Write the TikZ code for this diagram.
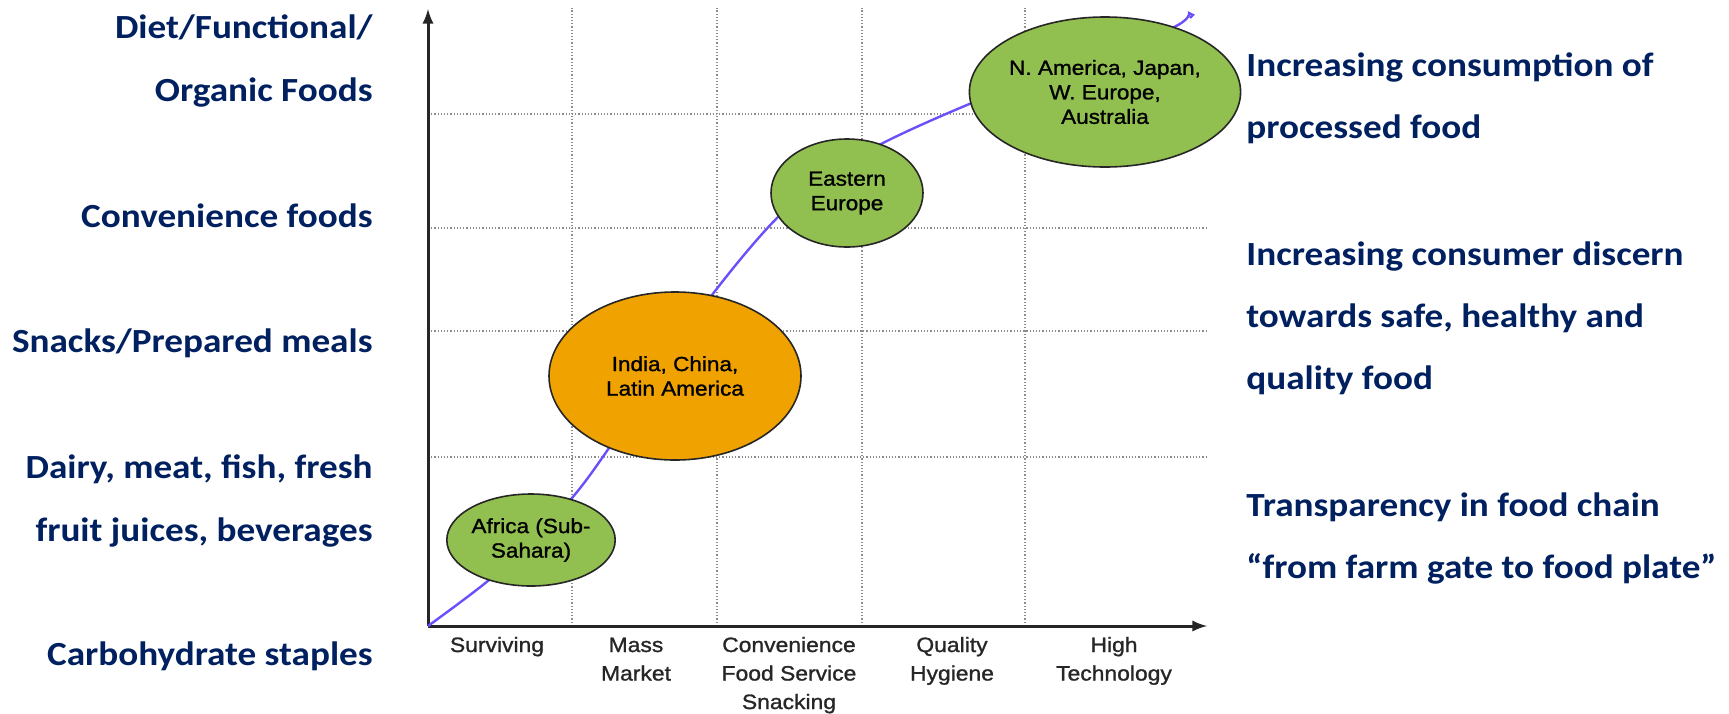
\documentclass[tikz,border=0pt]{standalone}
\usepackage{fontspec}
\setmainfont{Liberation Sans}[FakeStretch=1.1, FakeBold=1.2]
\newfontfamily\stagefont{Carlito}[FakeStretch=1.1]
\usepackage{xcolor}
\usetikzlibrary{arrows,shapes,positioning,calc}

\definecolor{navy}{RGB}{0,32,96}
\definecolor{curveblue}{RGB}{105,80,250}
\definecolor{leafgreen}{RGB}{146,192,80}
\definecolor{amber}{RGB}{240,162,0}

\tikzset{
  stage/.style={font=\stagefont\bfseries\fontsize{16.9}{31.5}\selectfont, text=navy, align=right, anchor=base east, inner sep=0pt},
  trend/.style={font=\stagefont\bfseries\fontsize{16.9}{31}\selectfont, text=navy, align=left, anchor=base west, inner sep=0pt},
  region/.style={draw=black!85, line width=0.8pt, ellipse, inner sep=0pt, align=center, font=\fontsize{10.25}{12.25}\selectfont, text=black},
  phase/.style={font=\fontsize{10.4}{14.25}\selectfont, text=black!85, align=center, anchor=base, inner sep=0pt},
  gridline/.style={black!45, densely dotted, line width=0.6pt},
  axis/.style={line width=1.5pt, black!85, -latex},
}

\begin{document}
\begin{tikzpicture}[x=0.5pt,y=-0.5pt]
\useasboundingbox (0,0) rectangle (1729,713);

% grid
\foreach \gx in {572,717,862,1025}
  \draw[gridline] (\gx,626) -- (\gx,8);
\foreach \gy in {114,228,331,457}
  \draw[gridline] (428,\gy) -- (1207,\gy);

% axes
\coordinate (origin) at (428,626);
\coordinate (ytop) at (428,9);
\coordinate (xend) at (1207,626);
\draw[axis] (origin) -- (ytop);
\draw[axis] (origin) -- (xend);

% growth curve
\draw[curveblue, line width=1.2pt] plot[smooth, tension=0.6] coordinates {
  (428,626) (489,580) (531,540) (572,498) (609,448) (660,371) (712,295)
  (778,217) (830,177) (881,144) (979,100) (1075,64) (1172,28) (1189,13)}
  -- (1193,15) -- (1190,18);

% regions (sizes in pt)
\node[region, fill=leafgreen, minimum width=79pt, minimum height=46pt] (africa) at (531,540) {Africa (Sub-\\Sahara)};
\node[region, fill=amber, minimum width=126pt, minimum height=84pt] (india) at (675,376) {India, China,\\Latin America};
\node[region, fill=leafgreen, minimum width=76pt, minimum height=54pt] (easteu) at (847,193) {Eastern\\Europe};
\node[region, fill=leafgreen, minimum width=125.5pt, minimum height=75pt] (westeu) at (1105,92) {N. America, Japan,\\W. Europe,\\Australia};

% stages along x (base = last line)
\node[phase] (surviving) at (497,652) {Surviving};
\node[phase] (mass) at (636,680.5) {Mass\\Market};
\node[phase] (conven) at (789,709) {Convenience\\Food Service\\Snacking};
\node[phase] (quality) at (952,680.5) {Quality\\Hygiene};
\node[phase] (hightech) at (1114,680.5) {High\\Technology};

% food categories
\node[stage] (diet) at (373,101) {Diet/Functional/\\Organic Foods};
\node[stage] (convfood) at (373,227) {Convenience foods};
\node[stage] (snacks) at (373,352) {Snacks/Prepared meals};
\node[stage] (dairy) at (373,541) {Dairy, meat, fish, fresh\\fruit juices, beverages};
\node[stage] (carbs) at (373,665) {Carbohydrate staples};

% trends
\node[trend] (processed) at (1246,138) {Increasing consumption of\\processed food};
\node[trend] (discern) at (1246,389) {Increasing consumer discern\\towards safe, healthy and\\quality food};
\node[trend] (transp) at (1246,578) {Transparency in food chain\\“from farm gate to food plate”};

\end{tikzpicture}
\end{document}
